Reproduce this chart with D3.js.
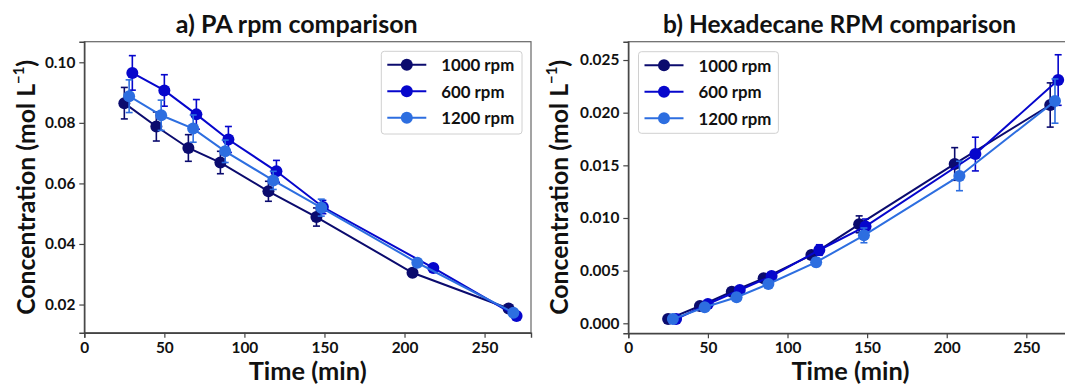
<!DOCTYPE html>
<html><head><meta charset="utf-8">
<script src="https://cdn.jsdelivr.net/npm/d3@7"></script>
<style>
html,body{margin:0;padding:0;background:#fff;}
svg text{font-family:Lato,"Open Sans",sans-serif;font-weight:bold;fill:#111;}
</style></head>
<body><svg id="c" width="1065" height="385"></svg>
<script>
// ---- data ----
const seriesNames = ["1000 rpm", "600 rpm", "1200 rpm"];
const seriesColors = ["#0b0b6e", "#0606cc", "#2d6ee0"];
const time1000 = [25, 45, 65, 85, 115, 145, 205, 265];
const time600  = [30, 50, 70, 90, 120, 149, 218, 270];
const time1200 = [28, 48, 68, 88, 118, 148, 208, 268];

const paConc1000 = [0.0865, 0.0788, 0.0717, 0.0669, 0.0574, 0.0489, 0.0305, 0.0187];
const paErr1000  = [0.0052, 0.0048, 0.0044, 0.0037, 0.0033, 0.0030, 0.0012, 0.0008];
const paConc600  = [0.0965, 0.0907, 0.0828, 0.0745, 0.0640, 0.0522, 0.0321, 0.0162];
const paErr600   = [0.0057, 0.0052, 0.0049, 0.0043, 0.0036, 0.0022, 0.0010, 0.0008];
const paConc1200 = [0.0888, 0.0825, 0.0781, 0.0706, 0.0610, 0.0520, 0.0338, 0.0173];
const paErr1200  = [0.0054, 0.0050, 0.0045, 0.0037, 0.0030, 0.0028, 0.0012, 0.0010];

const hxConc1000 = [0.0004, 0.00164, 0.0030, 0.00427, 0.00648, 0.0094, 0.01513, 0.02073];
const hxErr1000  = [0.0001, 0.0002, 0.0002, 0.0003, 0.0004, 0.0008, 0.00155, 0.0021];
const hxConc600  = [0.0004, 0.00183, 0.00316, 0.00449, 0.00696, 0.0092, 0.01607, 0.0231];
const hxErr600   = [0.0001, 0.0002, 0.0002, 0.0003, 0.0005, 0.0007, 0.0016, 0.0024];
const hxConc1200 = [0.0004, 0.00152, 0.00247, 0.00373, 0.0058, 0.00835, 0.01399, 0.0211];
const hxErr1200  = [0.0001, 0.0002, 0.0002, 0.0003, 0.0004, 0.0007, 0.0014, 0.0021];

const xTicks = [0, 50, 100, 150, 200, 250];
const paYTicks = [0.02, 0.04, 0.06, 0.08, 0.10];
const hxYTicks = [0.000, 0.005, 0.010, 0.015, 0.020, 0.025];
const titles = ["a) PA rpm comparison", "b) Hexadecane RPM comparison"];
const xLabel = "Time (min)";

// ---- build ----
const svg = d3.select("#c");
const times = [time1000, time600, time1200];
function mk(concs, errs){
  return seriesNames.map((n,i)=>({name:n, color:seriesColors[i],
    pts: times[i].map((t,j)=>({t, c:concs[i][j], e:errs[i][j]}))}));
}
const panels = [
  {title:titles[0], series: mk([paConc1000,paConc600,paConc1200],[paErr1000,paErr600,paErr1200]),
   xr:[84.3,531], yr:[332.7,41.7], ydom:[0.0107,0.1068], yticks:paYTicks, fmt:d3.format(".2f"),
   titleX:296.7, titleW:242, ylabX:24.5, legend:{x:381.3,y:51.3,w:140.7,h:82.7}},
  {title:titles[1], series: mk([hxConc1000,hxConc600,hxConc1200],[hxErr1000,hxErr600,hxErr1200]),
   xr:[628.3,1072.5], yr:[333.3,41.7], ydom:[-0.00095,0.02674], yticks:hxYTicks, fmt:d3.format(".3f"),
   titleX:839.6, titleW:353, ylabX:558, legend:{x:638.5,y:51.7,w:139.9,h:81.6}}
];

function measure(txt, size){
  const t = svg.append("text").style("font-size",size+"px").text(txt);
  const w = t.node().getComputedTextLength(); t.remove(); return w;
}
const tickSize = (20*30.4/measure("0.10",20)).toFixed(2)+"px";
const legSize = (20*73/measure("1000 rpm",20)).toFixed(2)+"px";

function fit(sel, target){
  const base = parseFloat(sel.style("font-size"));
  const w = sel.node().getComputedTextLength();
  sel.style("font-size", (base*target/w).toFixed(2)+"px");
}

panels.forEach(p=>{
  const x = d3.scaleLinear().domain([0,279]).range(p.xr);
  const y = d3.scaleLinear().domain(p.ydom).range(p.yr);
  const g = svg.append("g");

  g.append("rect").attr("x",p.xr[0]).attr("y",p.yr[1])
    .attr("width",p.xr[1]-p.xr[0]).attr("height",p.yr[0]-p.yr[1])
    .attr("fill","none").attr("stroke","#666").attr("stroke-width",1.2);

  const xa = g.append("g").attr("transform",`translate(0,${p.yr[0]})`)
    .call(d3.axisBottom(x).tickValues(xTicks).tickSize(5).tickPadding(4).tickFormat(d3.format("d")));
  const ya = g.append("g").attr("transform",`translate(${p.xr[0]},0)`)
    .call(d3.axisLeft(y).tickValues(p.yticks).tickSize(5).tickPadding(4).tickFormat(p.fmt));
  [xa,ya].forEach(a=>{
    a.select(".domain").attr("stroke","#444").attr("stroke-width",1.4);
    a.selectAll(".tick line").attr("stroke","#444").attr("stroke-width",1.2);
    a.selectAll(".tick text").style("font-size",tickSize).attr("fill","#111");
  });

  p.series.forEach(s=>{
    const sg = g.append("g");
    const line = d3.line().x(d=>x(d.t)).y(d=>y(d.c));
    sg.append("path").datum(s.pts).attr("d",line).attr("fill","none")
      .attr("stroke",s.color).attr("stroke-width",2);
    const eb = sg.selectAll(".eb").data(s.pts).enter().append("g");
    eb.append("line").attr("x1",d=>x(d.t)).attr("x2",d=>x(d.t))
      .attr("y1",d=>y(d.c-d.e)).attr("y2",d=>y(d.c+d.e))
      .attr("stroke",s.color).attr("stroke-width",1.6);
    [-1,1].forEach(sg2=>{
      eb.append("line").attr("x1",d=>x(d.t)-3.5).attr("x2",d=>x(d.t)+3.5)
        .attr("y1",d=>y(d.c+sg2*d.e)).attr("y2",d=>y(d.c+sg2*d.e))
        .attr("stroke",s.color).attr("stroke-width",1.6);
    });
    sg.selectAll("circle").data(s.pts).enter().append("circle")
      .attr("cx",d=>x(d.t)).attr("cy",d=>y(d.c)).attr("r",6).attr("fill",s.color);
  });

  const L = p.legend;
  const lg = g.append("g");
  lg.append("rect").attr("x",L.x).attr("y",L.y).attr("width",L.w).attr("height",L.h)
    .attr("rx",3).attr("fill","#fff").attr("fill-opacity",0.85).attr("stroke","#d0d0d0").attr("stroke-width",1);
  p.series.forEach((s,i)=>{
    const ry = L.y + 13.5 + i*26.5;
    const lx = L.x + 6;
    lg.append("line").attr("x1",lx).attr("x2",lx+39).attr("y1",ry).attr("y2",ry)
      .attr("stroke",s.color).attr("stroke-width",2);
    lg.append("circle").attr("cx",lx+19.5).attr("cy",ry).attr("r",6).attr("fill",s.color);
    lg.append("text").attr("x",lx+54).attr("y",ry).attr("dominant-baseline","central")
      .style("font-size",legSize).text(s.name);
  });

  const t = g.append("text").attr("x",p.titleX).attr("y",33).attr("text-anchor","middle")
    .style("font-size","20px").text(p.title);
  fit(t, p.titleW);

  const xl = g.append("text").attr("x",(p.xr[0]+p.xr[1])/2).attr("y",380)
    .attr("text-anchor","middle").style("font-size","22px").text(xLabel);
  fit(xl, 118);

  const yl = g.append("text").attr("transform",`translate(${p.ylabX},187.3) rotate(-90)`)
    .attr("text-anchor","middle").attr("dominant-baseline","central").style("font-size","22px");
  yl.append("tspan").text("Concentration (mol L");
  yl.append("tspan").attr("dy","-0.45em").style("font-size","0.6em").text("−1");
  yl.append("tspan").attr("dy","0.27em").text(")");
  fit(yl, 255);
});
</script></body></html>
